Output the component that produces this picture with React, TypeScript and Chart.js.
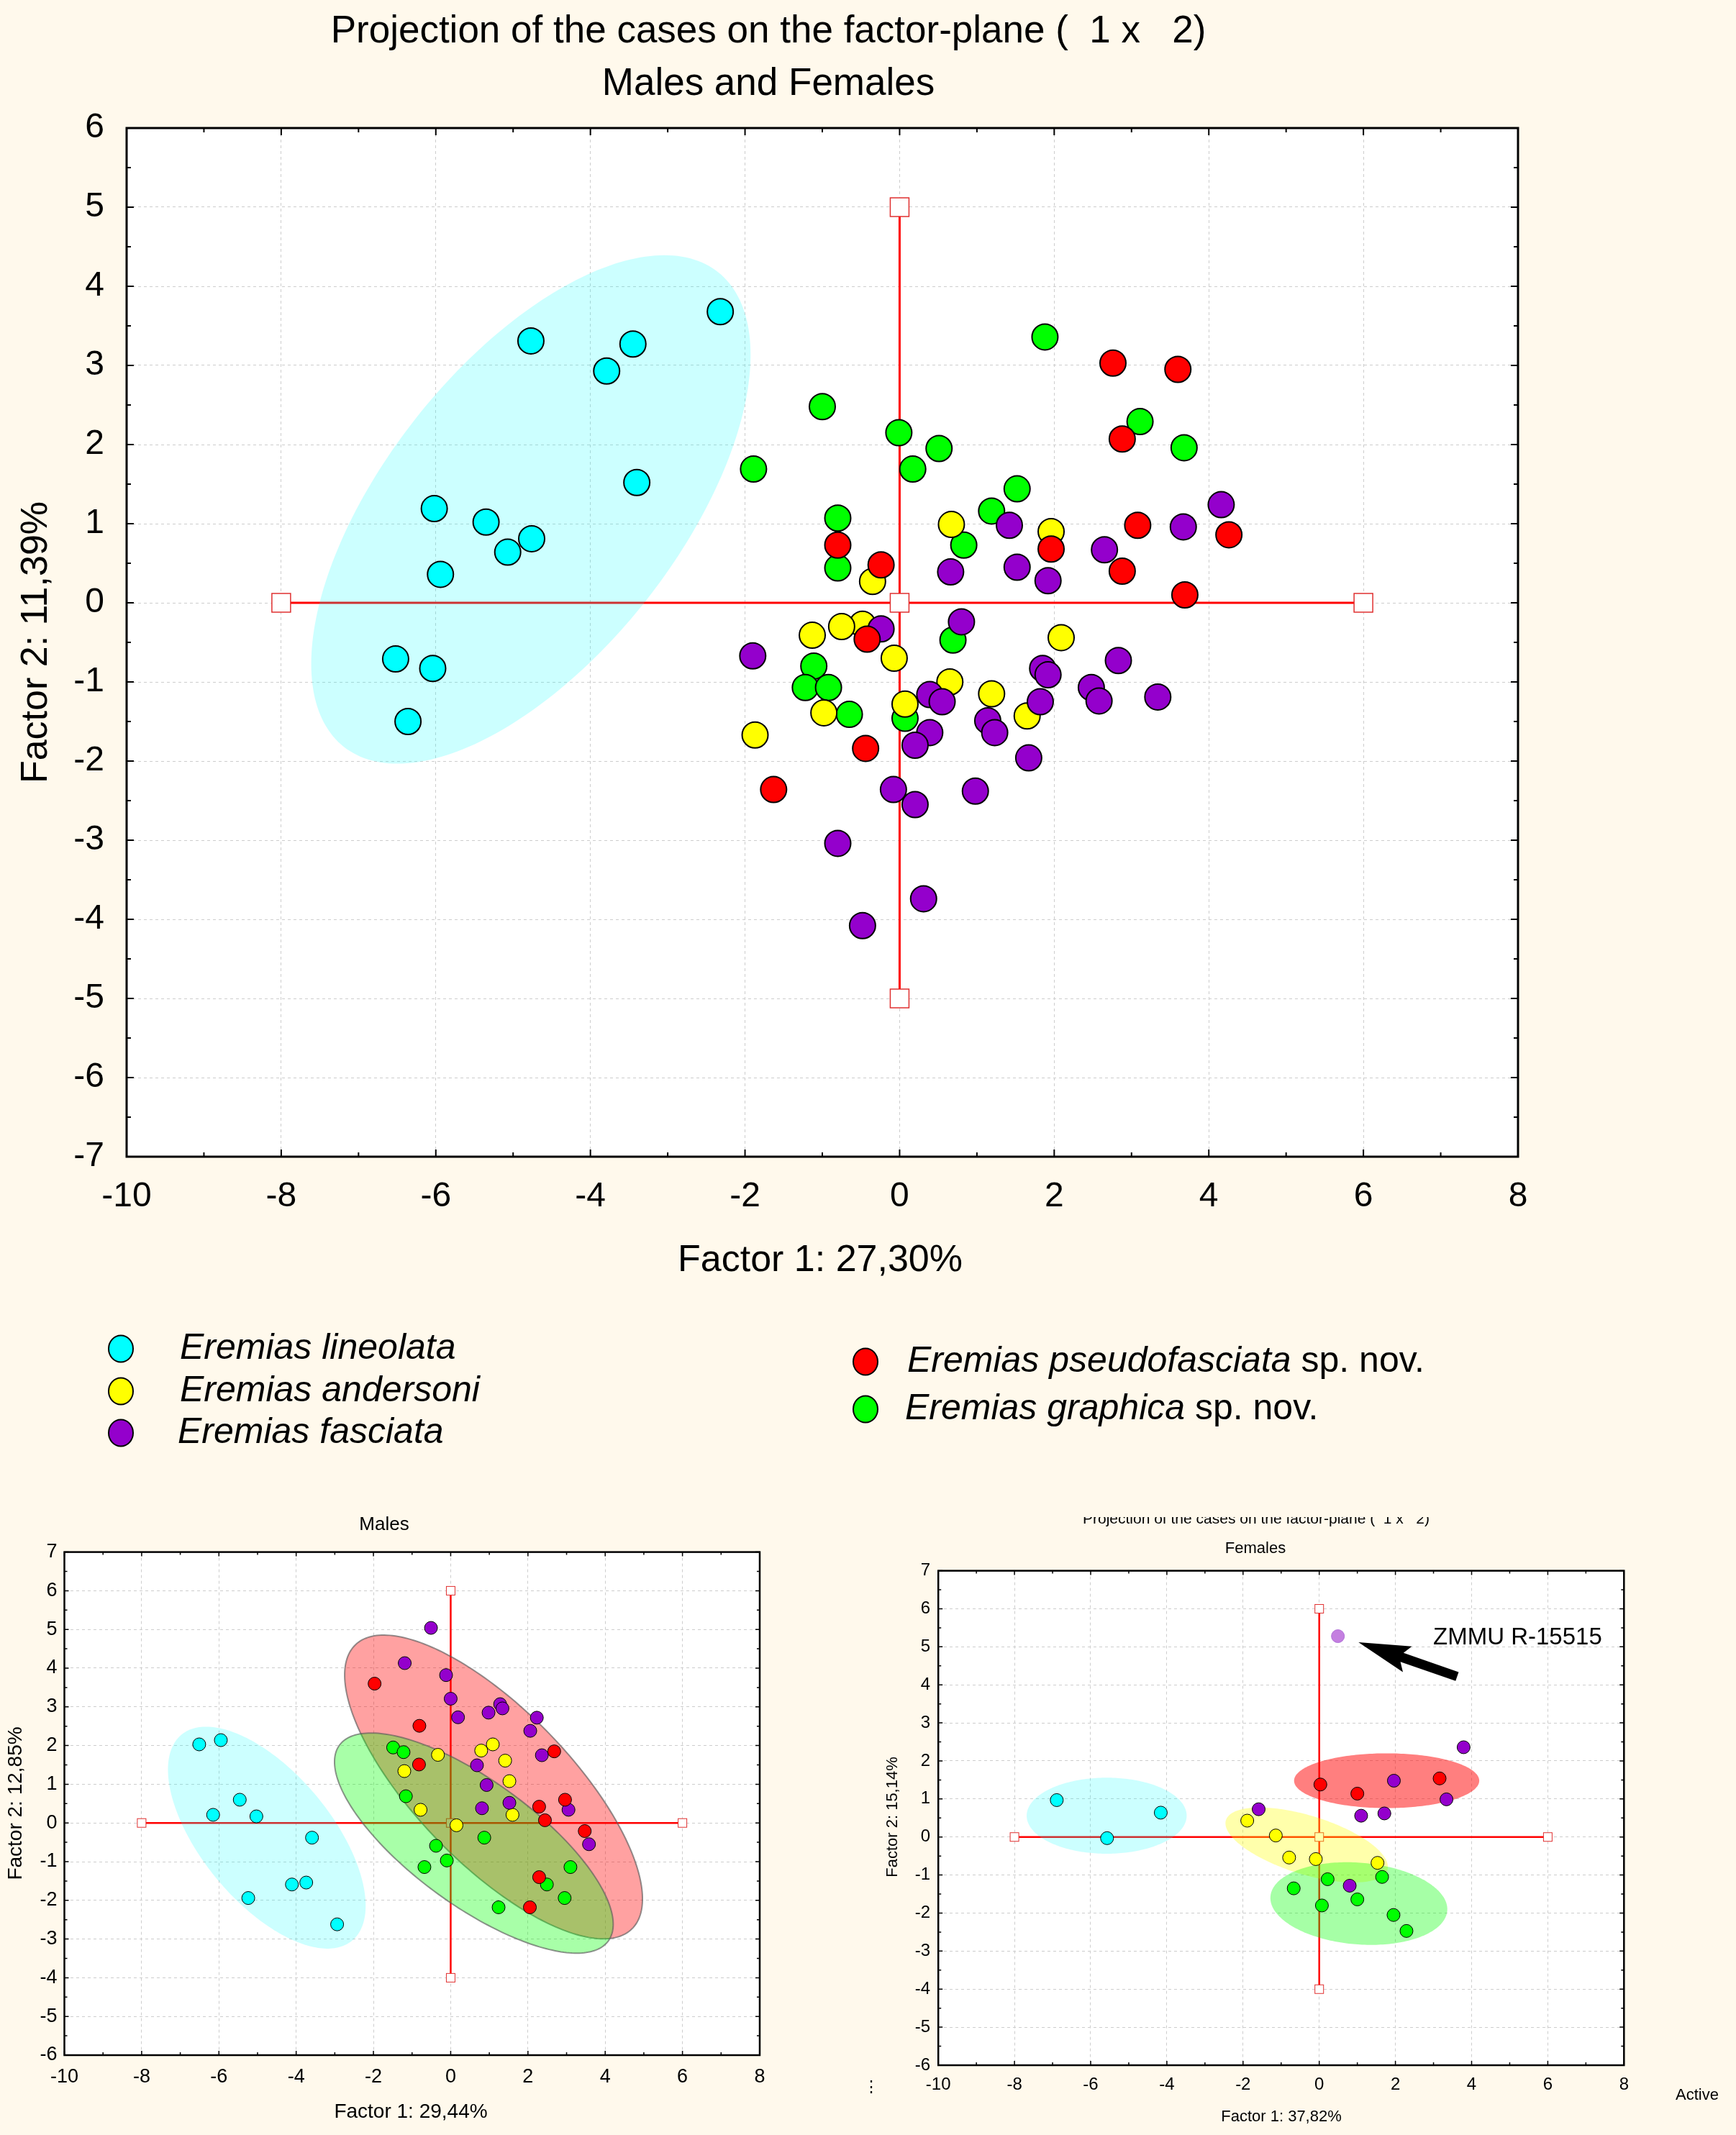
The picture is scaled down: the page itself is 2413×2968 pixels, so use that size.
import React, { useEffect, useRef } from "react";
import { Chart, registerables } from "chart.js";

Chart.register(...registerables);

const FONT = '"Liberation Sans", Arial, Helvetica, sans-serif';
const PAGE_BG = "#FFF9EC";
const GRID_COLOR = "#CDCDCD";

// ---------- categories ----------
const SPECIES = [
  "Eremias lineolata",
  "Eremias andersoni",
  "Eremias fasciata",
  "Eremias pseudofasciata",
  "Eremias graphica",
];
const SPECIES_SUFFIX = ["", "", "", " sp. nov.", " sp. nov."];
const SPECIES_COLORS = ["#00FFFF", "#FFFF00", "#9400CC", "#FF0000", "#00FF00"];
const SPECIES_ORDER = [4, 2, 1, 0, 3];

// ---------- tick labels ----------
const X_TICKS = [-10, -8, -6, -4, -2, 0, 2, 4, 6, 8];
const MAIN_Y_TICKS = [-7, -6, -5, -4, -3, -2, -1, 0, 1, 2, 3, 4, 5, 6];
const SEX_Y_TICKS = [-6, -5, -4, -3, -2, -1, 0, 1, 2, 3, 4, 5, 6, 7];

// ---------- Males and Females (factor 1 x factor 2) ----------
const bothLineolata = [
  [-2.32, 3.68], [-3.45, 3.27], [-3.79, 2.93], [-4.77, 3.31], [-3.40, 1.52],
  [-6.02, 1.19], [-5.35, 1.02], [-4.76, 0.81], [-5.07, 0.64], [-5.94, 0.36],
  [-6.52, -0.71], [-6.04, -0.83], [-6.36, -1.50],
];
const bothAndersoni = [
  [0.67, 0.99], [1.96, 0.90], [-0.35, 0.27], [-0.48, -0.27], [-0.75, -0.30],
  [-1.13, -0.41], [2.09, -0.44], [-0.07, -0.70], [0.65, -1.00], [1.19, -1.15],
  [0.07, -1.28], [-0.98, -1.39], [1.65, -1.43], [-1.87, -1.67],
];
const bothFasciata = [
  [4.16, 1.24], [3.67, 0.96], [1.42, 0.98], [2.65, 0.67], [0.66, 0.39],
  [1.52, 0.45], [1.92, 0.28], [0.80, -0.24], [-0.24, -0.33], [-1.90, -0.67],
  [2.83, -0.73], [1.85, -0.83], [1.92, -0.91], [2.48, -1.07], [2.58, -1.24],
  [3.34, -1.19], [1.82, -1.25], [0.39, -1.16], [0.55, -1.25], [1.14, -1.49],
  [1.23, -1.64], [0.39, -1.64], [0.20, -1.80], [1.67, -1.96], [-0.08, -2.36],
  [0.20, -2.55], [0.98, -2.38], [-0.80, -3.04], [0.31, -3.74], [-0.48, -4.08],
];
const bothPseudofasciata = [
  [2.76, 3.03], [3.60, 2.95], [2.88, 2.07], [3.08, 0.98], [4.26, 0.86],
  [1.96, 0.68], [-0.80, 0.73], [-0.24, 0.48], [2.88, 0.40], [3.69, 0.10],
  [-0.42, -0.46], [-0.44, -1.84], [-1.63, -2.36],
];
const bothGraphica = [
  [1.88, 3.36], [-1.00, 2.48], [-0.01, 2.15], [0.51, 1.95], [0.17, 1.69],
  [-1.89, 1.69], [3.11, 2.29], [3.68, 1.96], [1.52, 1.44], [1.19, 1.16],
  [-0.80, 1.07], [0.83, 0.73], [-0.80, 0.44], [0.69, -0.47], [-1.11, -0.80],
  [-1.22, -1.07], [-0.92, -1.07], [-0.65, -1.41], [0.07, -1.46],
];
// confidence ellipses: species index, centre, two semi-axis vectors (data units)
const bothEllipses = [
  { sp: 0, c: [-4.77, 1.18], u: [2.42, 3.0], v: [1.49, -1.15] },
];

// ---------- Males ----------
const malesLineolata = [
  [-6.51, 2.03], [-5.95, 2.14], [-5.46, 0.60], [-6.15, 0.21], [-5.03, 0.17],
  [-3.59, -0.38], [-4.11, -1.59], [-3.74, -1.54], [-5.24, -1.94], [-2.94, -2.62],
];
const malesAndersoni = [
  [1.09, 2.03], [0.79, 1.87], [-0.33, 1.76], [1.41, 1.61], [-1.20, 1.34],
  [1.52, 1.08], [-0.78, 0.34], [1.60, 0.21], [0.15, -0.06],
];
const malesFasciata = [
  [-0.51, 5.04], [-1.19, 4.13], [-0.12, 3.82], [0.0, 3.21], [0.19, 2.73],
  [0.98, 2.85], [1.28, 3.07], [1.34, 2.96], [2.23, 2.72], [2.06, 2.38],
  [2.36, 1.75], [0.68, 1.49], [0.93, 0.98], [1.52, 0.52], [0.81, 0.38],
  [3.05, 0.34], [3.58, -0.55],
];
const malesPseudofasciata = [
  [-1.97, 3.60], [-0.81, 2.51], [-0.82, 1.51], [2.68, 1.85], [2.96, 0.60],
  [2.29, 0.42], [2.44, 0.07], [3.47, -0.21], [2.29, -1.40], [2.05, -2.18],
];
const malesGraphica = [
  [-1.49, 1.95], [-1.22, 1.83], [-1.16, 0.69], [0.87, -0.38], [-0.38, -0.59],
  [-0.10, -0.97], [-0.68, -1.14], [3.10, -1.14], [2.49, -1.59], [2.95, -1.94],
  [1.24, -2.18],
];
const malesEllipses = [
  { sp: 0, c: [-4.76, -0.38], u: [2.21, -2.66], v: [-1.29, -1.07] },
  { sp: 3, c: [1.11, 0.93], u: [3.58, -3.67], v: [-1.43, -1.39] },
  { sp: 4, c: [0.6, -0.52], u: [3.48, -2.53], v: [-0.95, -1.3] },
];

// ---------- Females ----------
const femalesLineolata = [[-6.89, 0.97], [-4.16, 0.64], [-5.57, -0.03]];
const femalesAndersoni = [
  [-1.89, 0.43], [-1.14, 0.04], [-0.79, -0.54], [-0.09, -0.58], [1.53, -0.68],
];
const femalesFasciata = [
  [3.79, 2.36], [1.96, 1.48], [3.34, 0.99], [-1.59, 0.73], [1.10, 0.56],
  [1.71, 0.62], [0.80, -1.28],
];
const femalesPseudofasciata = [[0.03, 1.38], [1.0, 1.14], [3.16, 1.54]];
const femalesGraphica = [
  [0.22, -1.11], [1.65, -1.05], [-0.67, -1.35], [0.07, -1.80], [1.0, -1.64],
  [1.95, -2.05], [2.29, -2.47],
];
const femalesSpecimen = [[0.49, 5.28]];
const SPECIMEN_LABEL = "ZMMU R-15515";
const specimenLabelAt = [2.99, 5.23];
const specimenArrowTail = [3.62, 4.22];
const specimenArrowTip = [1.03, 5.12];
const femalesEllipses = [
  { sp: 0, c: [-5.58, 0.56], u: [2.1, 0.0], v: [0.0, 1.0] },
  { sp: 3, c: [1.77, 1.48], u: [2.43, 0.0], v: [0.0, 0.72] },
  { sp: 1, c: [-0.33, -0.21], u: [2.12, -0.65], v: [-0.22, -0.74] },
  { sp: 4, c: [1.04, -1.75], u: [2.32, -0.19], v: [-0.09, -1.07] },
];

// ---------- panel specs (layout / style) ----------
type Spec = any;

const MAIN: Spec = {
  id: "main",
  x: 0, y: 0, w: 2413, h: 2100,
  left: 176, right: 2110, top: 178, bottom: 1608, xAxisH: 100,
  yMin: -7, yMax: 6, yTicks: MAIN_Y_TICKS,
  tickFont: 48, yPad: 31, xPad: 27,
  pointRadius: 18, pointBorder: 2,
  lineW: 3, square: 26, frameW: 3, majorLen: 10, minorLen: 6,
  crossH: [-8, 6], crossV: [-5, 5],
  series: [bothLineolata, bothAndersoni, bothFasciata, bothPseudofasciata, bothGraphica],
  ellipses: bothEllipses,
  ellipseFill: ["rgba(0,255,255,0.2)", "", "", "", ""],
  ellipseStroke: null,
  texts: [
    { t: "Projection of the cases on the factor-plane (  1 x   2)", x: 1068, y: 44, s: 53 },
    { t: "Males and Females", x: 1068, y: 117, s: 53 },
    { t: "Factor 1: 27,30%", x: 1140, y: 1753, s: 52 },
    { t: "Factor 2: 11,39%", x: 51, y: 893, s: 52, rot: true },
  ],
  legend: true,
};

const MALES: Spec = {
  id: "males",
  x: 0, y: 2107, w: 1180, h: 861,
  left: 89.5, right: 1056, top: 50.6, bottom: 750, xAxisH: 60,
  yMin: -6, yMax: 7, yTicks: SEX_Y_TICKS,
  tickFont: 27, yPad: 10, xPad: 14,
  pointRadius: 9, pointBorder: 1,
  lineW: 2.5, square: 12, frameW: 2.5, majorLen: 6, minorLen: 4,
  crossH: [-8, 6], crossV: [-4, 6],
  series: [malesLineolata, malesAndersoni, malesFasciata, malesPseudofasciata, malesGraphica],
  ellipses: malesEllipses,
  ellipseFill: ["rgba(0,255,255,0.2)", "", "", "rgba(255,0,0,0.37)", "rgba(0,255,0,0.34)"],
  ellipseStroke: ["", "", "", "rgba(90,90,90,0.65)", "rgba(90,90,90,0.65)"],
  texts: [
    { t: "Males", x: 534, y: 13, s: 26 },
    { t: "Factor 1: 29,44%", x: 571, y: 829, s: 28 },
    { t: "Factor 2: 12,85%", x: 22, y: 400, s: 28, rot: true },
  ],
};

const FEMALES: Spec = {
  id: "females",
  x: 1195, y: 2109, w: 1218, h: 859,
  left: 109.2, right: 1062.3, top: 74.6, bottom: 762, xAxisH: 60,
  yMin: -6, yMax: 7, yTicks: SEX_Y_TICKS,
  tickFont: 24, yPad: 11, xPad: 13,
  pointRadius: 9, pointBorder: 1,
  lineW: 2.5, square: 12, frameW: 2.5, majorLen: 6, minorLen: 4,
  crossH: [-8, 6], crossV: [-4, 6],
  series: [femalesLineolata, femalesAndersoni, femalesFasciata, femalesPseudofasciata, femalesGraphica],
  ellipses: femalesEllipses,
  ellipseFill: ["rgba(0,255,255,0.2)", "rgba(255,255,0,0.33)", "", "rgba(255,0,0,0.5)", "rgba(0,255,0,0.35)"],
  ellipseStroke: null,
  texts: [
    { t: "Projection of the cases on the factor-plane (  1 x   2)", x: 551, y: 9, s: 21, base: "alphabetic" },
    { t: "Females", x: 550, y: 44, s: 22 },
    { t: "Factor 1: 37,82%", x: 586, y: 834, s: 22 },
    { t: "Factor 2: 15,14%", x: 46, y: 417, s: 22, rot: true },
    { t: "Active", x: 1164, y: 804, s: 22 },
    { t: "\u22EE", x: 16, y: 793, s: 22 },
  ],
  specimen: true,
};

// legend layout (page coordinates, inside main canvas)
const LEGEND_MARKER = [[168, 1875], [168, 1934], [168, 1992], [1203, 1893], [1203, 1959]];
const LEGEND_TEXT_X = [250, 250, 247, 1261, 1258];

// ---------- drawing helpers ----------
function drawText(ctx: any, str: string, x: number, y: number, size: number, opts: any = {}) {
  ctx.save();
  ctx.translate(x, y);
  if (opts.rot) ctx.rotate(-Math.PI / 2);
  ctx.font = `${opts.italic ? "italic " : ""}${size}px ${FONT}`;
  ctx.fillStyle = "#000";
  ctx.textAlign = opts.align || "center";
  ctx.textBaseline = opts.base || "middle";
  ctx.fillText(str, 0, 0);
  ctx.restore();
}

function ellipsePath(ctx: any, xs: any, ys: any, e: any) {
  ctx.beginPath();
  const n = 240;
  for (let k = 0; k <= n; k++) {
    const t = (k / n) * Math.PI * 2;
    const dx = e.c[0] + e.u[0] * Math.cos(t) + e.v[0] * Math.sin(t);
    const dy = e.c[1] + e.u[1] * Math.cos(t) + e.v[1] * Math.sin(t);
    const px = xs.getPixelForValue(dx);
    const py = ys.getPixelForValue(dy);
    if (k === 0) ctx.moveTo(px, py);
    else ctx.lineTo(px, py);
  }
  ctx.closePath();
}

function tickList(vals: number[], major: number, minor: number) {
  const out: number[][] = [];
  for (let i = 0; i < vals.length; i++) {
    out.push([vals[i], major]);
    if (i < vals.length - 1) out.push([(vals[i] + vals[i + 1]) / 2, minor]);
  }
  return out;
}

function makePlugin(s: Spec) {
  return {
    id: "panel_" + s.id,
    beforeDraw(chart: any) {
      const { ctx, chartArea: a } = chart;
      ctx.save();
      ctx.fillStyle = PAGE_BG;
      ctx.fillRect(0, 0, chart.width, chart.height);
      ctx.fillStyle = "#FFFFFF";
      ctx.fillRect(a.left, a.top, a.right - a.left, a.bottom - a.top);
      ctx.restore();
    },
    beforeDatasetsDraw(chart: any) {
      const { ctx, chartArea: a, scales } = chart;
      const xs = scales.x, ys = scales.y;
      ctx.save();
      ctx.beginPath();
      ctx.rect(a.left, a.top, a.right - a.left, a.bottom - a.top);
      ctx.clip();
      // crosshair
      const x0 = xs.getPixelForValue(0), y0 = ys.getPixelForValue(0);
      ctx.strokeStyle = "#FF0000";
      ctx.lineWidth = s.lineW;
      ctx.beginPath();
      ctx.moveTo(xs.getPixelForValue(s.crossH[0]), y0);
      ctx.lineTo(xs.getPixelForValue(s.crossH[1]), y0);
      ctx.moveTo(x0, ys.getPixelForValue(s.crossV[0]));
      ctx.lineTo(x0, ys.getPixelForValue(s.crossV[1]));
      ctx.stroke();
      const sq = s.square;
      const marks = [
        [s.crossH[0], 0], [s.crossH[1], 0], [0, 0], [0, s.crossV[0]], [0, s.crossV[1]],
      ];
      ctx.lineWidth = s.id === "main" ? 1.5 : 1;
      for (const [mx, my] of marks) {
        const px = xs.getPixelForValue(mx), py = ys.getPixelForValue(my);
        ctx.fillStyle = "#FFFFFF";
        ctx.fillRect(px - sq / 2, py - sq / 2, sq, sq);
        ctx.strokeStyle = "#E03030";
        ctx.strokeRect(px - sq / 2, py - sq / 2, sq, sq);
      }
      // ellipses
      for (const e of s.ellipses) {
        ellipsePath(ctx, xs, ys, e);
        ctx.fillStyle = s.ellipseFill[e.sp];
        ctx.fill();
        if (s.ellipseStroke && s.ellipseStroke[e.sp]) {
          ctx.strokeStyle = s.ellipseStroke[e.sp];
          ctx.lineWidth = 2;
          ctx.stroke();
        }
      }
      ctx.restore();
    },
    afterDraw(chart: any) {
      const { ctx, chartArea: a, scales } = chart;
      const xs = scales.x, ys = scales.y;
      ctx.save();
      // frame
      ctx.strokeStyle = "#000";
      ctx.lineWidth = s.frameW;
      ctx.strokeRect(a.left, a.top, a.right - a.left, a.bottom - a.top);
      // inward ticks on four sides
      ctx.lineWidth = Math.max(1.5, s.frameW - 1);
      ctx.beginPath();
      for (const [v, len] of tickList(X_TICKS, s.majorLen, s.minorLen)) {
        const px = xs.getPixelForValue(v);
        ctx.moveTo(px, a.bottom);
        ctx.lineTo(px, a.bottom - len);
        ctx.moveTo(px, a.top);
        ctx.lineTo(px, a.top + len);
      }
      for (const [v, len] of tickList(s.yTicks, s.majorLen, s.minorLen)) {
        const py = ys.getPixelForValue(v);
        ctx.moveTo(a.left, py);
        ctx.lineTo(a.left + len, py);
        ctx.moveTo(a.right, py);
        ctx.lineTo(a.right - len, py);
      }
      ctx.stroke();
      ctx.restore();

      for (const t of s.texts) {
        drawText(ctx, t.t, t.x, t.y, t.s, { rot: t.rot, base: t.base });
      }

      if (s.specimen) {
        // arrow
        const tx = xs.getPixelForValue(specimenArrowTail[0]);
        const ty = ys.getPixelForValue(specimenArrowTail[1]);
        const hx = xs.getPixelForValue(specimenArrowTip[0]);
        const hy = ys.getPixelForValue(specimenArrowTip[1]);
        const len = Math.hypot(hx - tx, hy - ty);
        const ux = (hx - tx) / len, uy = (hy - ty) / len;
        const nx = -uy, ny = ux;
        const headL = 72, headW = 19, shaftW = 6.5;
        const bx = hx - ux * headL, by = hy - uy * headL;
        ctx.save();
        ctx.fillStyle = "#000";
        ctx.beginPath();
        ctx.moveTo(tx + nx * shaftW, ty + ny * shaftW);
        ctx.lineTo(bx + ux * 8 + nx * shaftW, by + uy * 8 + ny * shaftW);
        ctx.lineTo(bx + nx * headW, by + ny * headW);
        ctx.lineTo(hx, hy);
        ctx.lineTo(bx - nx * headW, by - ny * headW);
        ctx.lineTo(bx + ux * 8 - nx * shaftW, by + uy * 8 - ny * shaftW);
        ctx.lineTo(tx - nx * shaftW, ty - ny * shaftW);
        ctx.closePath();
        ctx.fill();
        ctx.restore();
        drawText(
          ctx, SPECIMEN_LABEL,
          xs.getPixelForValue(specimenLabelAt[0]), ys.getPixelForValue(specimenLabelAt[1]),
          33, { align: "left" }
        );
      }

      if (s.legend) {
        for (let i = 0; i < SPECIES.length; i++) {
          const [mx, my] = LEGEND_MARKER[i];
          ctx.save();
          ctx.beginPath();
          ctx.ellipse(mx, my, 17, 18.5, 0, 0, Math.PI * 2);
          ctx.fillStyle = SPECIES_COLORS[i];
          ctx.fill();
          ctx.lineWidth = 2;
          ctx.strokeStyle = "#000";
          ctx.stroke();
          ctx.font = `italic 50px ${FONT}`;
          const w = ctx.measureText(SPECIES[i]).width;
          ctx.restore();
          drawText(ctx, SPECIES[i], LEGEND_TEXT_X[i], my, 50, { italic: true, align: "left" });
          if (SPECIES_SUFFIX[i]) {
            drawText(ctx, SPECIES_SUFFIX[i], LEGEND_TEXT_X[i] + w, my, 50, { align: "left" });
          }
        }
      }
    },
  };
}

function makeConfig(s: Spec): any {
  const datasets: any[] = s.series.map((pts: number[][], i: number) => ({
    label: SPECIES[i],
    data: pts.map(([x, y]) => ({ x, y })),
    backgroundColor: SPECIES_COLORS[i],
    borderColor: "#000000",
    borderWidth: s.pointBorder,
    pointRadius: s.pointRadius,
    pointHoverRadius: s.pointRadius,
    order: SPECIES_ORDER[i],
  }));
  if (s.specimen) {
    datasets.push({
      label: SPECIMEN_LABEL,
      data: femalesSpecimen.map(([x, y]) => ({ x, y })),
      backgroundColor: "#C47FE0",
      borderColor: "#B070D8",
      borderWidth: 1,
      pointRadius: s.pointRadius,
      pointHoverRadius: s.pointRadius,
      order: -1,
    });
  }
  const tickFont = { family: FONT, size: s.tickFont };
  return {
    type: "scatter",
    data: { datasets },
    options: {
      responsive: false,
      maintainAspectRatio: false,
      animation: false,
      devicePixelRatio: 1,
      events: [],
      layout: {
        padding: {
          left: 0,
          top: s.top,
          right: s.w - s.right,
          bottom: s.h - s.bottom - s.xAxisH,
        },
      },
      plugins: {
        legend: { display: false },
        title: { display: false },
        tooltip: { enabled: false },
      },
      scales: {
        x: {
          type: "linear",
          min: -10,
          max: 8,
          afterBuildTicks: (sc: any) => {
            sc.ticks = X_TICKS.map((v) => ({ value: v }));
          },
          afterFit: (sc: any) => {
            sc.height = s.xAxisH;
          },
          grid: { color: GRID_COLOR, lineWidth: 1, drawTicks: false },
          border: { display: false, dash: [4, 4] },
          ticks: {
            font: tickFont,
            color: "#000",
            padding: s.xPad,
            maxRotation: 0,
            autoSkip: false,
            callback: (v: any) => String(v),
          },
        },
        y: {
          type: "linear",
          min: s.yMin,
          max: s.yMax,
          afterBuildTicks: (sc: any) => {
            sc.ticks = s.yTicks.map((v: number) => ({ value: v }));
          },
          afterFit: (sc: any) => {
            sc.width = s.left;
          },
          grid: { color: GRID_COLOR, lineWidth: 1, drawTicks: false },
          border: { display: false, dash: [4, 4] },
          ticks: {
            font: tickFont,
            color: "#000",
            padding: s.yPad,
            autoSkip: false,
            callback: (v: any) => String(v),
          },
        },
      },
    },
    plugins: [makePlugin(s)],
  };
}

function Panel({ spec }: { spec: Spec }) {
  const ref = useRef<HTMLCanvasElement | null>(null);
  useEffect(() => {
    if (!ref.current) return;
    const chart = new Chart(ref.current, makeConfig(spec));
    return () => chart.destroy();
  }, [spec]);
  return (
    <canvas
      ref={ref}
      width={spec.w}
      height={spec.h}
      style={{
        position: "absolute",
        left: spec.x,
        top: spec.y,
        width: spec.w,
        height: spec.h,
        display: "block",
      }}
    />
  );
}

export default function App() {
  return (
    <div
      style={{
        position: "absolute",
        left: 0,
        top: 0,
        width: 2413,
        height: 2968,
        background: PAGE_BG,
        overflow: "hidden",
      }}
    >
      <Panel spec={MAIN} />
      <Panel spec={MALES} />
      <Panel spec={FEMALES} />
    </div>
  );
}
